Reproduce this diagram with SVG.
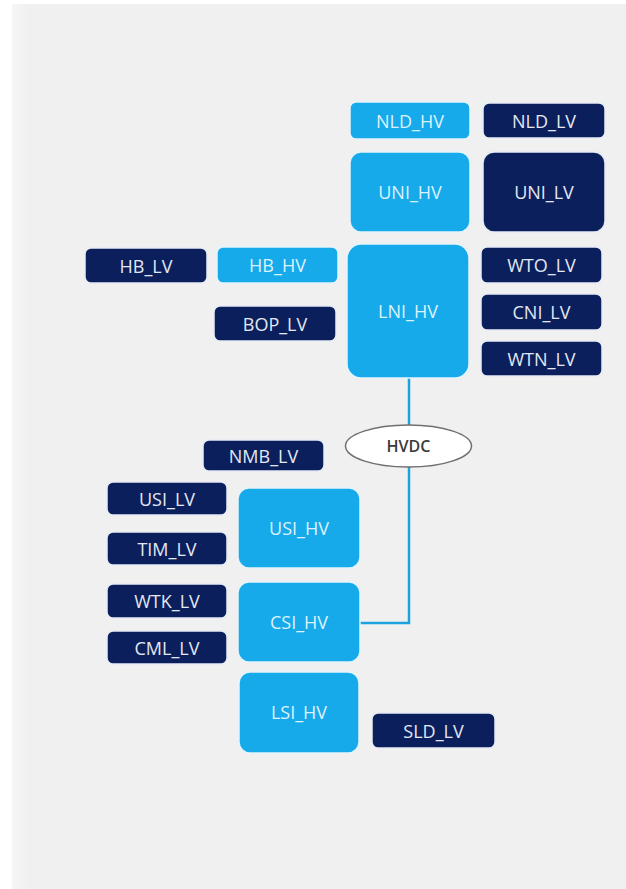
<svg xmlns="http://www.w3.org/2000/svg" width="626" height="889" viewBox="0 0 626 889">
  <defs>
    <style>
      .hv { fill: #16aaeb; stroke: #e3f4fc; stroke-width: 1.5; }
      .lv { fill: #0b1f5c; stroke: #e6ecf4; stroke-width: 1.5; }
      .lbl { font-family: "Open Sans", "Noto Sans", sans-serif; font-size: 18px; text-anchor: middle; dominant-baseline: central; }
      .hv-t { fill: #dcf2ff; }
      .lv-t { fill: #e4e8f2; }
      .wire { fill: none; stroke: #1ba2df; stroke-width: 2.5; }
    </style>
    <linearGradient id="edge" x1="0" y1="0" x2="1" y2="0">
      <stop offset="0" stop-color="#f6f6f6"/>
      <stop offset="1" stop-color="#f0f0f0"/>
    </linearGradient>
  </defs>

  <!-- page -->
  <rect x="0" y="0" width="626" height="889" fill="#ffffff"/>
  <rect x="12" y="4" width="614" height="885" fill="#f0f0f0"/>
  <rect x="12" y="4" width="16" height="885" fill="url(#edge)"/>

  <!-- connectors -->
  <g id="connectors">
    <line class="wire" x1="409" y1="378" x2="409" y2="425"/>
    <polyline class="wire" points="409,467 409,623 360,623"/>
  </g>

  <!-- northern area -->
  <g id="NLD_HV"><rect class="hv" x="350" y="102" width="120" height="37" rx="6"/><text class="lbl hv-t" x="410" y="120.5">NLD_HV</text></g>
  <g id="NLD_LV"><rect class="lv" x="483" y="103" width="122" height="35" rx="6"/><text class="lbl lv-t" x="544" y="120.5">NLD_LV</text></g>
  <g id="UNI_HV"><rect class="hv" x="350" y="152" width="120" height="80" rx="11"/><text class="lbl hv-t" x="410" y="192">UNI_HV</text></g>
  <g id="UNI_LV"><rect class="lv" x="483" y="152" width="122" height="80" rx="11"/><text class="lbl lv-t" x="544" y="192">UNI_LV</text></g>
  <g id="HB_LV"><rect class="lv" x="85" y="248" width="122" height="35" rx="6"/><text class="lbl lv-t" x="146" y="265.5">HB_LV</text></g>
  <g id="HB_HV"><rect class="hv" x="217" y="247" width="121" height="36" rx="6"/><text class="lbl hv-t" x="277.5" y="265">HB_HV</text></g>
  <g id="BOP_LV"><rect class="lv" x="214" y="306" width="122" height="35" rx="6"/><text class="lbl lv-t" x="275" y="323.5">BOP_LV</text></g>
  <g id="LNI_HV"><rect class="hv" x="347" y="244" width="122" height="134" rx="14"/><text class="lbl hv-t" x="408" y="311">LNI_HV</text></g>
  <g id="WTO_LV"><rect class="lv" x="481" y="247" width="121" height="36" rx="6"/><text class="lbl lv-t" x="541.5" y="265">WTO_LV</text></g>
  <g id="CNI_LV"><rect class="lv" x="481" y="294" width="121" height="36" rx="6"/><text class="lbl lv-t" x="541.5" y="312">CNI_LV</text></g>
  <g id="WTN_LV"><rect class="lv" x="481" y="341" width="121" height="35" rx="6"/><text class="lbl lv-t" x="541.5" y="358.5">WTN_LV</text></g>

  <!-- HVDC link -->
  <g id="HVDC">
    <ellipse cx="408.5" cy="446" rx="63" ry="21" fill="#ffffff" stroke="#707070" stroke-width="1.5"/>
    <text x="408.5" y="446" font-family="Open Sans, Noto Sans, sans-serif" font-size="16" font-weight="600" fill="#3a3a3a" text-anchor="middle" dominant-baseline="central">HVDC</text>
  </g>

  <!-- southern area -->
  <g id="NMB_LV"><rect class="lv" x="203" y="440" width="121" height="31" rx="6"/><text class="lbl lv-t" x="263.5" y="455.5">NMB_LV</text></g>
  <g id="USI_LV"><rect class="lv" x="107" y="482" width="120" height="33" rx="6"/><text class="lbl lv-t" x="167" y="498.5">USI_LV</text></g>
  <g id="TIM_LV"><rect class="lv" x="107" y="532" width="120" height="33" rx="6"/><text class="lbl lv-t" x="167" y="548.5">TIM_LV</text></g>
  <g id="WTK_LV"><rect class="lv" x="107" y="584" width="120" height="34" rx="6"/><text class="lbl lv-t" x="167" y="601">WTK_LV</text></g>
  <g id="CML_LV"><rect class="lv" x="107" y="631" width="120" height="33" rx="6"/><text class="lbl lv-t" x="167" y="647.5">CML_LV</text></g>
  <g id="USI_HV"><rect class="hv" x="238" y="488" width="122" height="80" rx="11"/><text class="lbl hv-t" x="299" y="528">USI_HV</text></g>
  <g id="CSI_HV"><rect class="hv" x="238" y="582" width="122" height="80" rx="11"/><text class="lbl hv-t" x="299" y="622">CSI_HV</text></g>
  <g id="LSI_HV"><rect class="hv" x="239" y="672" width="120" height="81" rx="11"/><text class="lbl hv-t" x="299" y="712">LSI_HV</text></g>
  <g id="SLD_LV"><rect class="lv" x="372" y="713" width="123" height="35" rx="6"/><text class="lbl lv-t" x="433.5" y="730.5">SLD_LV</text></g>
</svg>
